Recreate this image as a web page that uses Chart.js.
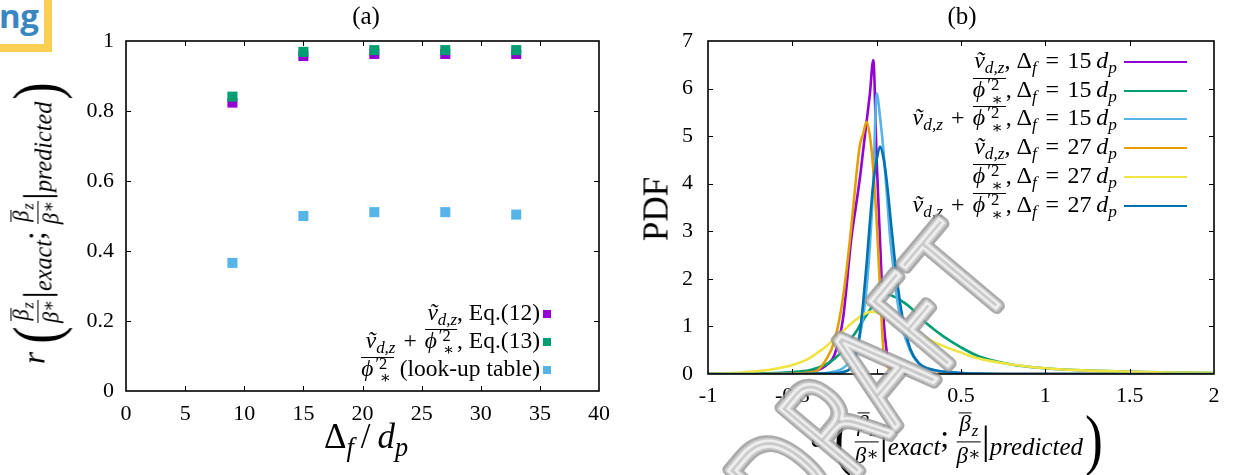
<!DOCTYPE html>
<html><head><meta charset="utf-8">
<script src="https://cdn.jsdelivr.net/npm/chart.js@4.4.1/dist/chart.umd.min.js"></script>
<style>
html,body{margin:0;padding:0;background:#fff;}
#wrap{position:relative;width:1235px;height:475px;overflow:hidden;background:#fff;}
canvas{position:absolute;top:0;}
#ca{left:0;} #cb{left:620px;} #wm{left:0;z-index:10;pointer-events:none;}
.m{position:absolute;font-family:"Liberation Serif","DejaVu Serif",serif;color:#000;white-space:nowrap;line-height:1;}
.m i{font-style:italic;}
.sb{font-size:0.72em;vertical-align:-0.3em;}
.ov{position:relative;padding-right:1px;}
.ov::before{content:"";position:absolute;left:0;right:0;top:0.08em;border-top:1.5px solid #000;}
.ss{display:inline-block;font-size:0.7em;line-height:0.85;vertical-align:-0.45em;text-align:left;margin-left:2px;padding-right:2px;}
.fr{display:inline-block;vertical-align:middle;text-align:center;font-size:0.72em;margin:0 1px;}
.fr>span{display:block;line-height:1.2;}
.fr>.nu{border-bottom:1.2px solid #000;padding:0 2px;}
.pl{font-size:2.1em;vertical-align:middle;display:inline-block;transform:scaleX(0.8);line-height:1;}
.br{font-size:1.25em;vertical-align:middle;}
.op{margin:0 0.34em;}
.eq{margin:0 0.36em;}
.lr{position:absolute;line-height:30px;height:30px;text-align:right;}
.mk{position:absolute;width:8px;height:8px;}
.ln{position:absolute;height:2.6px;width:63px;left:1124px;}
#logo{position:absolute;left:0;top:0;width:44px;height:44px;background:#fff;border-right:8px solid #fbd052;border-bottom:8px solid #fbd052;overflow:hidden;}
#logo span{position:absolute;left:-1px;top:-7px;font:700 33px "Open Sans",sans-serif;color:#3a86c0;letter-spacing:-0.5px;}
</style></head>
<body>
<div id="wrap">
<canvas id="ca" width="620" height="475"></canvas>
<canvas id="cb" width="615" height="475"></canvas>
<div id="logo"><span>ng</span></div>
<div id="overlay"></div>
<canvas id="wm" width="1235" height="475"></canvas>
</div>
<script>
// ---------- Panel (a) data ----------
const filterWidth = [9, 15, 21, 27, 33];            // Δf/dp
const rEq12   = [0.824, 0.957, 0.963, 0.963, 0.963]; // ṽd,z, Eq.(12)
const rEq13   = [0.841, 0.969, 0.974, 0.974, 0.974]; // ṽd,z + φ'2*, Eq.(13)
const rLookup = [0.366, 0.500, 0.511, 0.511, 0.504]; // φ'2* (look-up table)
const xTicksA = [0, 5, 10, 15, 20, 25, 30, 35, 40];
const yTicksA = [0, 0.2, 0.4, 0.6, 0.8, 1];

// ---------- Panel (b) data ----------
const eGrid = [-1, -0.8, -0.7, -0.6, -0.5, -0.4, -0.35, -0.3, -0.25, -0.2, -0.15, -0.12, -0.1, -0.08, -0.06, -0.04, -0.02, 0,
               0.02, 0.04, 0.06, 0.08, 0.1, 0.12, 0.15, 0.2, 0.25, 0.3, 0.4, 0.5, 0.6, 0.8, 1, 1.25, 1.5, 1.75, 2];
const pdfV15    = [0, 0, 0, 0.005, 0.01, 0.04, 0.08, 0.18, 0.4, 1.15, 2.85, 3.6, 4.1, 4.7, 5.3, 5.9, 6.6, 4.5,
                   2.8, 1.2, 0.45, 0.15, 0.07, 0.04, 0.02, 0.01, 0.005, 0, 0, 0, 0, 0, 0, 0, 0, 0, 0];
const pdfPhi15  = [0, 0.005, 0.01, 0.02, 0.04, 0.08, 0.13, 0.2, 0.32, 0.5, 0.75, 0.9, 1.02, 1.13, 1.24, 1.35, 1.44, 1.52,
                   1.59, 1.64, 1.66, 1.66, 1.63, 1.6, 1.53, 1.4, 1.22, 1.05, 0.78, 0.56, 0.38, 0.2, 0.12, 0.07, 0.05, 0.03, 0.02];
const pdfVPhi15 = [0, 0, 0, 0, 0, 0.01, 0.015, 0.02, 0.05, 0.12, 0.3, 0.5, 0.8, 1.2, 1.8, 2.7, 4.0, 5.9,
                   5.4, 4.7, 3.8, 2.85, 2.2, 1.6, 1.0, 0.48, 0.22, 0.12, 0.04, 0.02, 0.01, 0, 0, 0, 0, 0, 0];
const pdfV27    = [0, 0, 0, 0.005, 0.01, 0.03, 0.08, 0.3, 0.7, 1.6, 3.1, 4.2, 4.8, 5.05, 5.3, 5.0, 4.3, 3.2,
                   1.8, 0.5, 0.2, 0.1, 0.06, 0.04, 0.02, 0.01, 0, 0, 0, 0, 0, 0, 0, 0, 0, 0, 0];
const pdfPhi27  = [0.005, 0.03, 0.06, 0.11, 0.19, 0.33, 0.45, 0.58, 0.74, 0.9, 1.06, 1.15, 1.2, 1.25, 1.28, 1.31, 1.31, 1.29,
                   1.27, 1.24, 1.21, 1.18, 1.14, 1.1, 1.04, 0.94, 0.84, 0.74, 0.58, 0.45, 0.33, 0.2, 0.12, 0.07, 0.05, 0.03, 0.02];
const pdfVPhi27 = [0, 0, 0, 0, 0, 0.005, 0.01, 0.015, 0.02, 0.04, 0.15, 0.45, 0.85, 1.5, 2.3, 3.2, 4.0, 4.5,
                   4.78, 4.55, 4.05, 3.35, 2.65, 2.0, 1.25, 0.52, 0.23, 0.12, 0.05, 0.02, 0.01, 0, 0, 0, 0, 0, 0];
const xTicksB = [-1, -0.5, 0, 0.5, 1, 1.5, 2];
const yTicksB = [0, 1, 2, 3, 4, 5, 6, 7];

// ---------- styles ----------
const C_PURPLE = '#9400d3', C_GREEN = '#009e73', C_SKY = '#56b4e9',
      C_ORANGE = '#e69f00', C_YELLOW = '#f0e442', C_BLUE = '#0072b2';
const SERIF = '"Liberation Serif", "DejaVu Serif", serif';

const frameTicks = {
  id: 'frameTicks',
  afterDatasetsDraw(chart) {
    const {ctx, chartArea: a, scales: {x, y}} = chart;
    ctx.save();
    ctx.strokeStyle = '#000';
    ctx.lineWidth = 1;
    const L = 5;
    ctx.beginPath();
    x.ticks.forEach(t => {
      const p = Math.round(x.getPixelForValue(t.value)) + 0.5;
      if (p <= a.left + 1 || p >= a.right - 1) return;
      ctx.moveTo(p, a.bottom); ctx.lineTo(p, a.bottom - L);
      ctx.moveTo(p, a.top); ctx.lineTo(p, a.top + L);
    });
    y.ticks.forEach(t => {
      const p = Math.round(y.getPixelForValue(t.value)) + 0.5;
      if (p <= a.top + 1 || p >= a.bottom - 1) return;
      ctx.moveTo(a.left, p); ctx.lineTo(a.left + L, p);
      ctx.moveTo(a.right, p); ctx.lineTo(a.right - L, p);
    });
    ctx.stroke();
    ctx.lineWidth = 1.6;
    ctx.strokeRect(a.left, a.top, a.right - a.left, a.bottom - a.top);
    ctx.restore();
  }
};

function tickCfg(pad) {
  return {
    padding: pad, color: '#000', font: {family: SERIF, size: 22},
    autoSkip: false, maxRotation: 0,
    callback: v => String(v)
  };
}
function fixedTicks(vals) {
  return function(scale) { scale.ticks = vals.map(v => ({value: v})); };
}

// ---------- Chart (a) ----------
const ptsA = ys => filterWidth.map((x, i) => ({x, y: ys[i]}));
function sq(color, ys, order) {
  return {data: ptsA(ys), pointStyle: 'rect', pointRadius: 7.1, pointHoverRadius: 7.1,
          pointBackgroundColor: color, pointBorderColor: color, pointBorderWidth: 0,
          showLine: false, order};
}
new Chart(document.getElementById('ca'), {
  type: 'scatter',
  data: {datasets: [sq(C_PURPLE, rEq12, 3), sq(C_GREEN, rEq13, 2), sq(C_SKY, rLookup, 1)]},
  options: {
    responsive: false, animation: false, events: [],
    layout: {padding: {left: 0, top: 41, right: 14, bottom: 0}},
    plugins: {legend: {display: false}, tooltip: {enabled: false}},
    scales: {
      x: {type: 'linear', min: 0, max: 40, ticks: tickCfg(10),
          afterBuildTicks: fixedTicks(xTicksA),
          grid: {display: false, drawTicks: false}, border: {display: false},
          afterFit(s) { s.height = 84; }},
      y: {type: 'linear', min: 0, max: 1, ticks: tickCfg(12),
          afterBuildTicks: fixedTicks(yTicksA),
          grid: {display: false, drawTicks: false}, border: {display: false},
          afterFit(s) { s.width = 126; }}
    }
  },
  plugins: [frameTicks]
});

// ---------- Chart (b) ----------
const ptsB = ys => eGrid.map((x, i) => ({x, y: ys[i]}));
function ln(color, ys, order) {
  return {data: ptsB(ys), showLine: true, borderColor: color, backgroundColor: color,
          borderWidth: 2.6, pointRadius: 0, pointHoverRadius: 0, cubicInterpolationMode: 'monotone',
          fill: false, order};
}
new Chart(document.getElementById('cb'), {
  type: 'scatter',
  data: {datasets: [
    ln(C_PURPLE, pdfV15, 6), ln(C_GREEN, pdfPhi15, 5), ln(C_SKY, pdfVPhi15, 4),
    ln(C_ORANGE, pdfV27, 3), ln(C_YELLOW, pdfPhi27, 2), ln(C_BLUE, pdfVPhi27, 1)
  ]},
  options: {
    responsive: false, animation: false, events: [],
    layout: {padding: {left: 0, top: 41, right: 21, bottom: 0}},
    plugins: {legend: {display: false}, tooltip: {enabled: false}},
    scales: {
      x: {type: 'linear', min: -1, max: 2, ticks: tickCfg(9),
          afterBuildTicks: fixedTicks(xTicksB),
          grid: {display: false, drawTicks: false}, border: {display: false},
          afterFit(s) { s.height = 101; }},
      y: {type: 'linear', min: 0, max: 7, ticks: tickCfg(15),
          afterBuildTicks: fixedTicks(yTicksB),
          grid: {display: false, drawTicks: false}, border: {display: false},
          afterFit(s) { s.width = 88; }}
    }
  },
  plugins: [frameTicks]
});

// ---------- text overlays ----------
const vdz = '<i>v&#771;</i><span class="sb"><i>d,z</i></span>';
const phib = '<span class="ov"><i>ϕ</i><span class="ss">′2<br>&nbsp;∗</span></span>';
const plus = '<span class="op">+</span>';
const dF = n => ', Δ<span class="sb"><i>f</i></span><span class="eq">=</span>' + n + '&thinsp;<i>d</i><span class="sb"><i>p</i></span>';
const frac = '<span class="fr"><span class="nu"><span class="ov"><i>β</i></span><span class="sb"><i>z</i></span></span><span><i>β</i><span style="font-size:0.8em;vertical-align:0.2em">∗</span></span></span>';
const sub = s => '<span class="br">|</span><span class="sb" style="font-size:0.78em"><i>' + s + '</i></span>';
const errExpr = l => '<i>' + l + '</i>&thinsp;<span class="pl">(</span>' + frac + sub('exact') + ';&thinsp;' + frac + sub('predicted') + '<span class="pl">)</span>';

const ov = document.getElementById('overlay');
function put(html, css) {
  const d = document.createElement('div');
  d.className = 'm';
  d.innerHTML = html;
  d.style.cssText = css;
  ov.appendChild(d);
  return d;
}
put('(a)', 'left:366px;top:15px;font-size:25px;transform:translate(-50%,-50%)');
put('(b)', 'left:962px;top:15px;font-size:25px;transform:translate(-50%,-50%)');
put('Δ<span class="sb" style="font-size:0.75em"><i>f</i></span>&thinsp;/&thinsp;<i>d</i><span class="sb" style="font-size:0.75em"><i>p</i></span>',
    'left:366px;top:440px;font-size:35px;transform:translate(-50%,-50%)');
put(errExpr('r'), 'left:37px;top:222px;font-size:31px;transform:translate(-50%,-50%) rotate(-90deg)');
put('PDF', 'left:656px;top:209px;font-size:35px;transform:translate(-50%,-50%) rotate(-90deg)');
put(errExpr('e'), 'left:958px;top:440px;font-size:32px;transform:translate(-50%,-50%)');

// legend (a)
const legA = [
  [vdz + ', Eq.(12)', C_PURPLE, 314],
  [vdz + plus + phib + ', Eq.(13)', C_GREEN, 342],
  [phib + ' (look-up table)', C_SKY, 370]
];
legA.forEach(([h, c, y]) => {
  const d = put(h, 'font-size:23.5px;right:' + (1235 - 540) + 'px;top:' + (y - 17) + 'px');
  d.classList.add('lr');
  const mk = document.createElement('div');
  mk.className = 'mk';
  mk.style.cssText = 'left:543px;top:' + (y - 4) + 'px;background:' + c;
  ov.appendChild(mk);
});
// legend (b)
const legB = [
  [vdz + dF(15), C_PURPLE, 62],
  [phib + dF(15), C_GREEN, 91],
  [vdz + plus + phib + dF(15), C_SKY, 119],
  [vdz + dF(27), C_ORANGE, 148],
  [phib + dF(27), C_YELLOW, 177],
  [vdz + plus + phib + dF(27), C_BLUE, 206]
];
legB.forEach(([h, c, y]) => {
  const d = put(h, 'font-size:24px;right:' + (1235 - 1117) + 'px;top:' + (y - 17) + 'px');
  d.classList.add('lr');
  const l = document.createElement('div');
  l.className = 'ln';
  l.style.cssText = 'top:' + (y - 1.3) + 'px;background:' + c;
  ov.appendChild(l);
});

// ---------- watermark ----------
(function () {
  const w = document.getElementById('wm').getContext('2d');
  w.save();
  w.translate(1018, 282);
  w.rotate(-50 * Math.PI / 180);
  w.scale(0.76, 1);
  w.font = '200 138px "DejaVu Sans"';
  w.textAlign = 'right';
  w.textBaseline = 'alphabetic';
  w.lineJoin = 'round';
  w.lineCap = 'round';
  w.strokeStyle = 'rgba(150,150,150,0.8)'; w.lineWidth = 13; w.strokeText('DRAFT', 0, 0);
  w.strokeStyle = 'rgba(205,205,205,0.95)'; w.lineWidth = 7; w.strokeText('DRAFT', 0, 0);
  w.strokeStyle = 'rgba(238,238,238,1)'; w.lineWidth = 3; w.strokeText('DRAFT', 0, 0);
  w.restore();
})();
</script>
</body></html>
